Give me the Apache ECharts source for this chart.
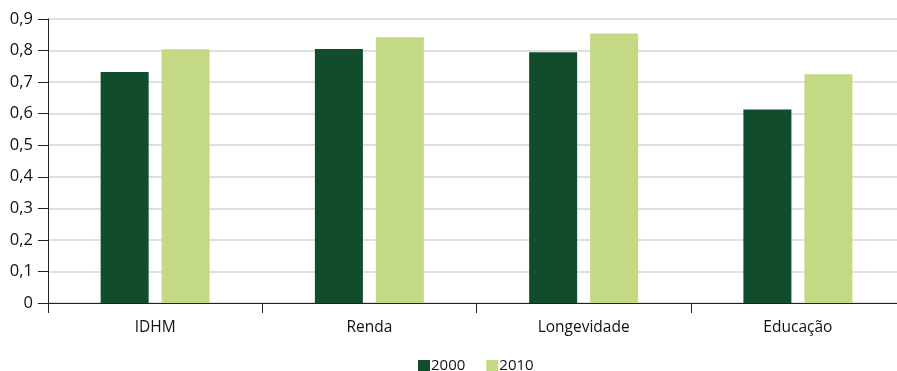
<!DOCTYPE html>
<html>
<head>
<meta charset="utf-8">
<script src="https://cdn.jsdelivr.net/npm/echarts@6/dist/echarts.min.js"></script>
<style>
html,body{margin:0;padding:0;background:#fff;overflow:hidden;width:897px;height:371px;}
#chart{width:905px;height:371px;}
</style>
</head>
<body>
<div id="chart"></div>
<script>
const categories = ['IDHM', 'Renda', 'Longevidade', 'Educação'];
const values2000 = [0.732, 0.805, 0.795, 0.613];
const values2010 = [0.804, 0.842, 0.854, 0.725];
const seriesNames = ['2000', '2010'];

const chart = echarts.init(document.getElementById('chart'));
const font = 'Open Sans';
chart.setOption({
  animation: false,
  backgroundColor: '#fff',
  grid: { left: 48, top: 19, bottom: 68, right: 0, containLabel: false },
  legend: {
    left: 418, top: 358, padding: 0,
    itemWidth: 12, itemHeight: 11, itemGap: 21,
    icon: 'rect',
    textStyle: { fontFamily: font, fontSize: 15, color: '#111', padding: [0, 0, 0, -4], lineHeight: 11 },
    data: seriesNames
  },
  xAxis: {
    type: 'category',
    data: categories,
    axisLine: { lineStyle: { color: '#222', width: 1 } },
    axisTick: { show: true, length: 10, lineStyle: { color: '#222' } },
    axisLabel: { fontFamily: font, fontSize: 15.5, color: '#111', margin: 17 }
  },
  yAxis: {
    type: 'value',
    min: 0, max: 0.9, interval: 0.1,
    axisLine: { show: true, lineStyle: { color: '#222', width: 1 } },
    axisTick: { show: true, length: 10, lineStyle: { color: '#222' } },
    axisLabel: {
      fontFamily: font, fontSize: 16.5, color: '#111', margin: 15,
      formatter: v => v === 0 ? '0' : v.toFixed(1).replace('.', ',')
    },
    splitLine: { show: true, lineStyle: { color: '#d6d6d6', width: 1.5 } }
  },
  series: [
    {
      name: seriesNames[0], type: 'bar', data: values2000,
      barWidth: 48, barGap: '27%',
      itemStyle: { color: '#114d2c' }
    },
    {
      name: seriesNames[1], type: 'bar', data: values2010,
      barWidth: 48,
      itemStyle: { color: '#c4d984' }
    }
  ]
});
</script>
</body>
</html>
